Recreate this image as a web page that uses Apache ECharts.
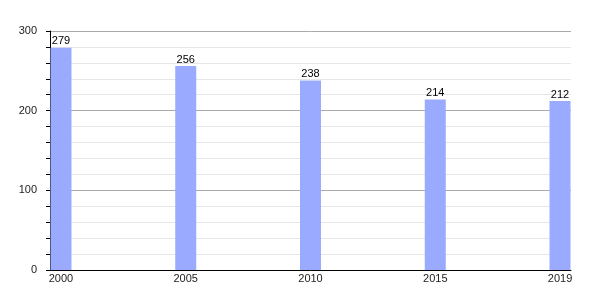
<!DOCTYPE html>
<html><head><meta charset="utf-8">
<script src="https://cdn.jsdelivr.net/npm/echarts@6/dist/echarts.min.js"></script>
<style>html,body{margin:0;padding:0;background:#fff}#c{width:600px;height:300px}</style>
</head><body><div id="c"></div>
<script>
const years = ['2000', '2005', '2010', '2015', '2019'];
const values = [279, 256, 238, 214, 212];
const yTicks = [0, 100, 200, 300];

const chart = echarts.init(document.getElementById('c'), null, {renderer: 'canvas'});
const font = 'Liberation Sans, Arial, sans-serif';
chart.setOption({
  animation: false,
  backgroundColor: '#fff',
  grid: {left: 50, right: 29, top: 31, bottom: 30, containLabel: false},
  xAxis: {
    type: 'value', min: -0.088, max: years.length - 1 + 0.088,
    axisLine: {show: true, onZero: false, lineStyle: {color: '#000', width: 1}},
    axisTick: {show: false},
    splitLine: {show: false},
    axisLabel: {
      customValues: years.map((_, i) => i),
      formatter: v => years[Math.round(v)],
      color: '#222', fontSize: 11, fontFamily: font, margin: 3
    }
  },
  yAxis: {
    type: 'value', min: yTicks[0], max: yTicks[yTicks.length - 1], interval: 100,
    axisLine: {show: true, onZero: false, lineStyle: {color: '#000', width: 1}},
    axisTick: {show: true, length: 4, lineStyle: {color: '#000'}},
    minorTick: {show: true, splitNumber: 5, length: 4, lineStyle: {color: '#000'}},
    splitLine: {show: true, lineStyle: {color: '#aaaaaa', width: 1}},
    minorSplitLine: {show: true, lineStyle: {color: '#e6e6e6', width: 1}},
    axisLabel: {color: '#222', fontSize: 11, fontFamily: font, margin: 13}
  },
  series: [{
    type: 'bar',
    data: values.map((v, i) => [i, v]),
    barWidth: 21,
    itemStyle: {color: '#99aaff'},
    label: {show: true, position: 'top', distance: 1, color: '#000', fontSize: 11, fontFamily: font}
  }]
});
</script></body></html>
